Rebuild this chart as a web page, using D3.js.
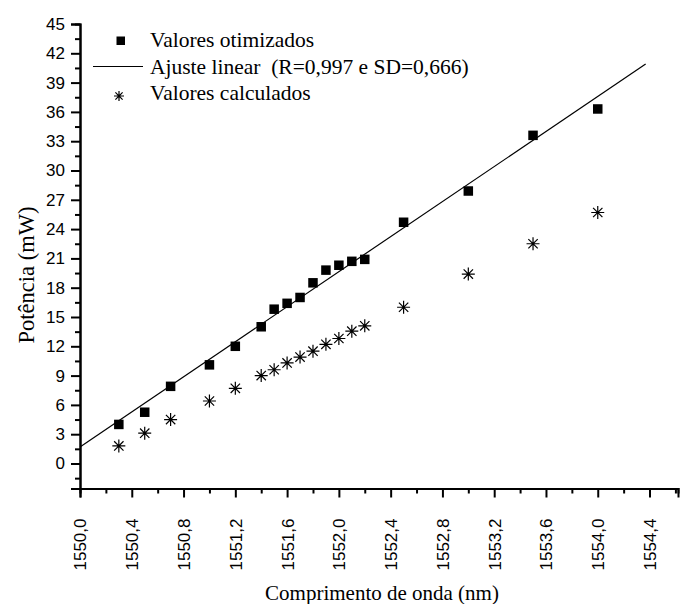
<!DOCTYPE html>
<html>
<head>
<meta charset="utf-8">
<script src="https://cdn.jsdelivr.net/npm/d3@7"></script>
<style>
  body { margin: 0; background: #fff; }
  svg { display: block; }
  .tick text { font-family: "Liberation Sans", Arial, sans-serif; font-size: 17px; fill: #000; }
</style>
</head>
<body>
<script>
// wavelengths (nm)
var comprimento = [1550.3, 1550.5, 1550.7, 1551.0, 1551.2, 1551.4, 1551.5, 1551.6, 1551.7,
                   1551.8, 1551.9, 1552.0, 1552.1, 1552.2, 1552.5, 1553.0, 1553.5, 1554.0];
// optimized power (mW)
var otimizados = [4.0, 5.25, 7.9, 10.1, 12.0, 14.0, 15.8, 16.4, 17.0,
                  18.5, 19.8, 20.3, 20.7, 20.9, 24.7, 27.9, 33.6, 36.3];
// calculated power (mW)
var calculados = [1.8, 3.1, 4.5, 6.4, 7.7, 9.0, 9.6, 10.3, 10.9,
                  11.5, 12.2, 12.8, 13.55, 14.1, 16.0, 19.4, 22.5, 25.7];
// linear fit end points
var ajusteX = [1550.0, 1554.37];
var ajusteY = [1.7, 40.9];

var xTicks = [1550.0, 1550.4, 1550.8, 1551.2, 1551.6, 1552.0, 1552.4, 1552.8, 1553.2, 1553.6, 1554.0, 1554.4];
var yTicks = [0, 3, 6, 9, 12, 15, 18, 21, 24, 27, 30, 33, 36, 39, 42, 45];

var legendLabels = ["Valores otimizados", "Ajuste linear  (R=0,997 e SD=0,666)", "Valores calculados"];

var width = 685, height = 604;
var mLeft = 80, mRight = 678, mTop = 24, mBottom = 488.5;
var serifFont = "'Liberation Serif', 'DejaVu Serif', Times, serif";

var svg = d3.select("body")
        .append("svg")
        .attr("width", width)
        .attr("height", height);

var x = d3.scaleLinear().domain([1550.0, 1554.62]).range([mLeft, mRight]);
var y = d3.scaleLinear().domain([-2.56, 45]).range([mBottom, mTop]);

var fmt = function(d) { return d3.format(".1f")(d).replace(".", ","); };

// minor ticks
var xMinor = d3.range(1550.2, 1554.61, 0.4);
var yMinor = d3.range(-1.5, 44, 3);

var xAxis = svg.append("g")
        .attr("transform", "translate(0," + mBottom + ")")
        .call(d3.axisBottom(x).tickValues(xTicks).tickFormat(fmt).tickSize(9).tickPadding(6));
xAxis.selectAll(".tick text")
        .attr("transform", "rotate(-90)")
        .attr("text-anchor", "end")
        .attr("dy", "0.35em")
        .attr("x", -30)
        .attr("y", 0);
svg.append("g")
        .attr("transform", "translate(0," + mBottom + ")")
        .call(d3.axisBottom(x).tickValues(xMinor).tickFormat("").tickSize(5));

svg.append("g")
        .attr("transform", "translate(" + mLeft + ",0)")
        .call(d3.axisLeft(y).tickValues(yTicks).tickSize(9).tickPadding(6));
svg.append("g")
        .attr("transform", "translate(" + mLeft + ",0)")
        .call(d3.axisLeft(y).tickValues(yMinor).tickFormat("").tickSize(5));

svg.selectAll(".domain").attr("stroke", "#000").attr("stroke-width", 2);
svg.selectAll(".tick line").attr("stroke", "#000").attr("stroke-width", 2);

// linear fit
svg.append("line")
        .attr("x1", x(ajusteX[0])).attr("y1", y(ajusteY[0]))
        .attr("x2", x(ajusteX[1])).attr("y2", y(ajusteY[1]))
        .attr("stroke", "#000").attr("stroke-width", 1.2);

// squares
var sq = 9.5;
svg.selectAll(".otim")
        .data(comprimento)
        .enter().append("rect")
        .attr("class", "otim")
        .attr("x", function(d) { return x(d) - sq / 2; })
        .attr("y", function(d, i) { return y(otimizados[i]) - sq / 2; })
        .attr("width", sq).attr("height", sq)
        .attr("fill", "#000");

// stars
function star(g, cx, cy, r) {
    var p = "M" + (cx - r) + "," + cy + "H" + (cx + r) +
            "M" + cx + "," + (cy - r) + "V" + (cy + r);
    var k = r * 0.72;
    p += "M" + (cx - k) + "," + (cy - k) + "L" + (cx + k) + "," + (cy + k) +
         "M" + (cx - k) + "," + (cy + k) + "L" + (cx + k) + "," + (cy - k);
    g.append("path").attr("d", p).attr("stroke", "#000").attr("stroke-width", 1.2).attr("fill", "none");
}
var stars = svg.append("g");
comprimento.forEach(function(d, i) { star(stars, x(d), y(calculados[i]), 6.5); });

// legend
var lg = svg.append("g");
lg.append("rect").attr("x", 116.5).attr("y", 36.5).attr("width", 8.5).attr("height", 8.5).attr("fill", "#000");
lg.append("line").attr("x1", 93).attr("x2", 143).attr("y1", 66.5).attr("y2", 66.5).attr("stroke", "#000").attr("stroke-width", 1.2);
star(lg, 119, 96, 5);
legendLabels.forEach(function(t, i) {
    lg.append("text")
        .attr("x", 150).attr("y", 47 + i * 26.7)
        .attr("font-family", serifFont)
        .attr("font-size", 21.5)
        .attr("fill", "#000")
        .style("white-space", "pre")
        .text(t);
});

// axis titles
svg.append("text")
        .attr("x", 382).attr("y", 600)
        .attr("text-anchor", "middle")
        .attr("font-family", serifFont)
        .attr("font-size", 21)
        .text("Comprimento de onda (nm)");
svg.append("text")
        .attr("transform", "translate(34,275) rotate(-90)")
        .attr("text-anchor", "middle")
        .attr("font-family", serifFont)
        .attr("font-size", 22.5)
        .text("Potência (mW)");
</script>
</body>
</html>
